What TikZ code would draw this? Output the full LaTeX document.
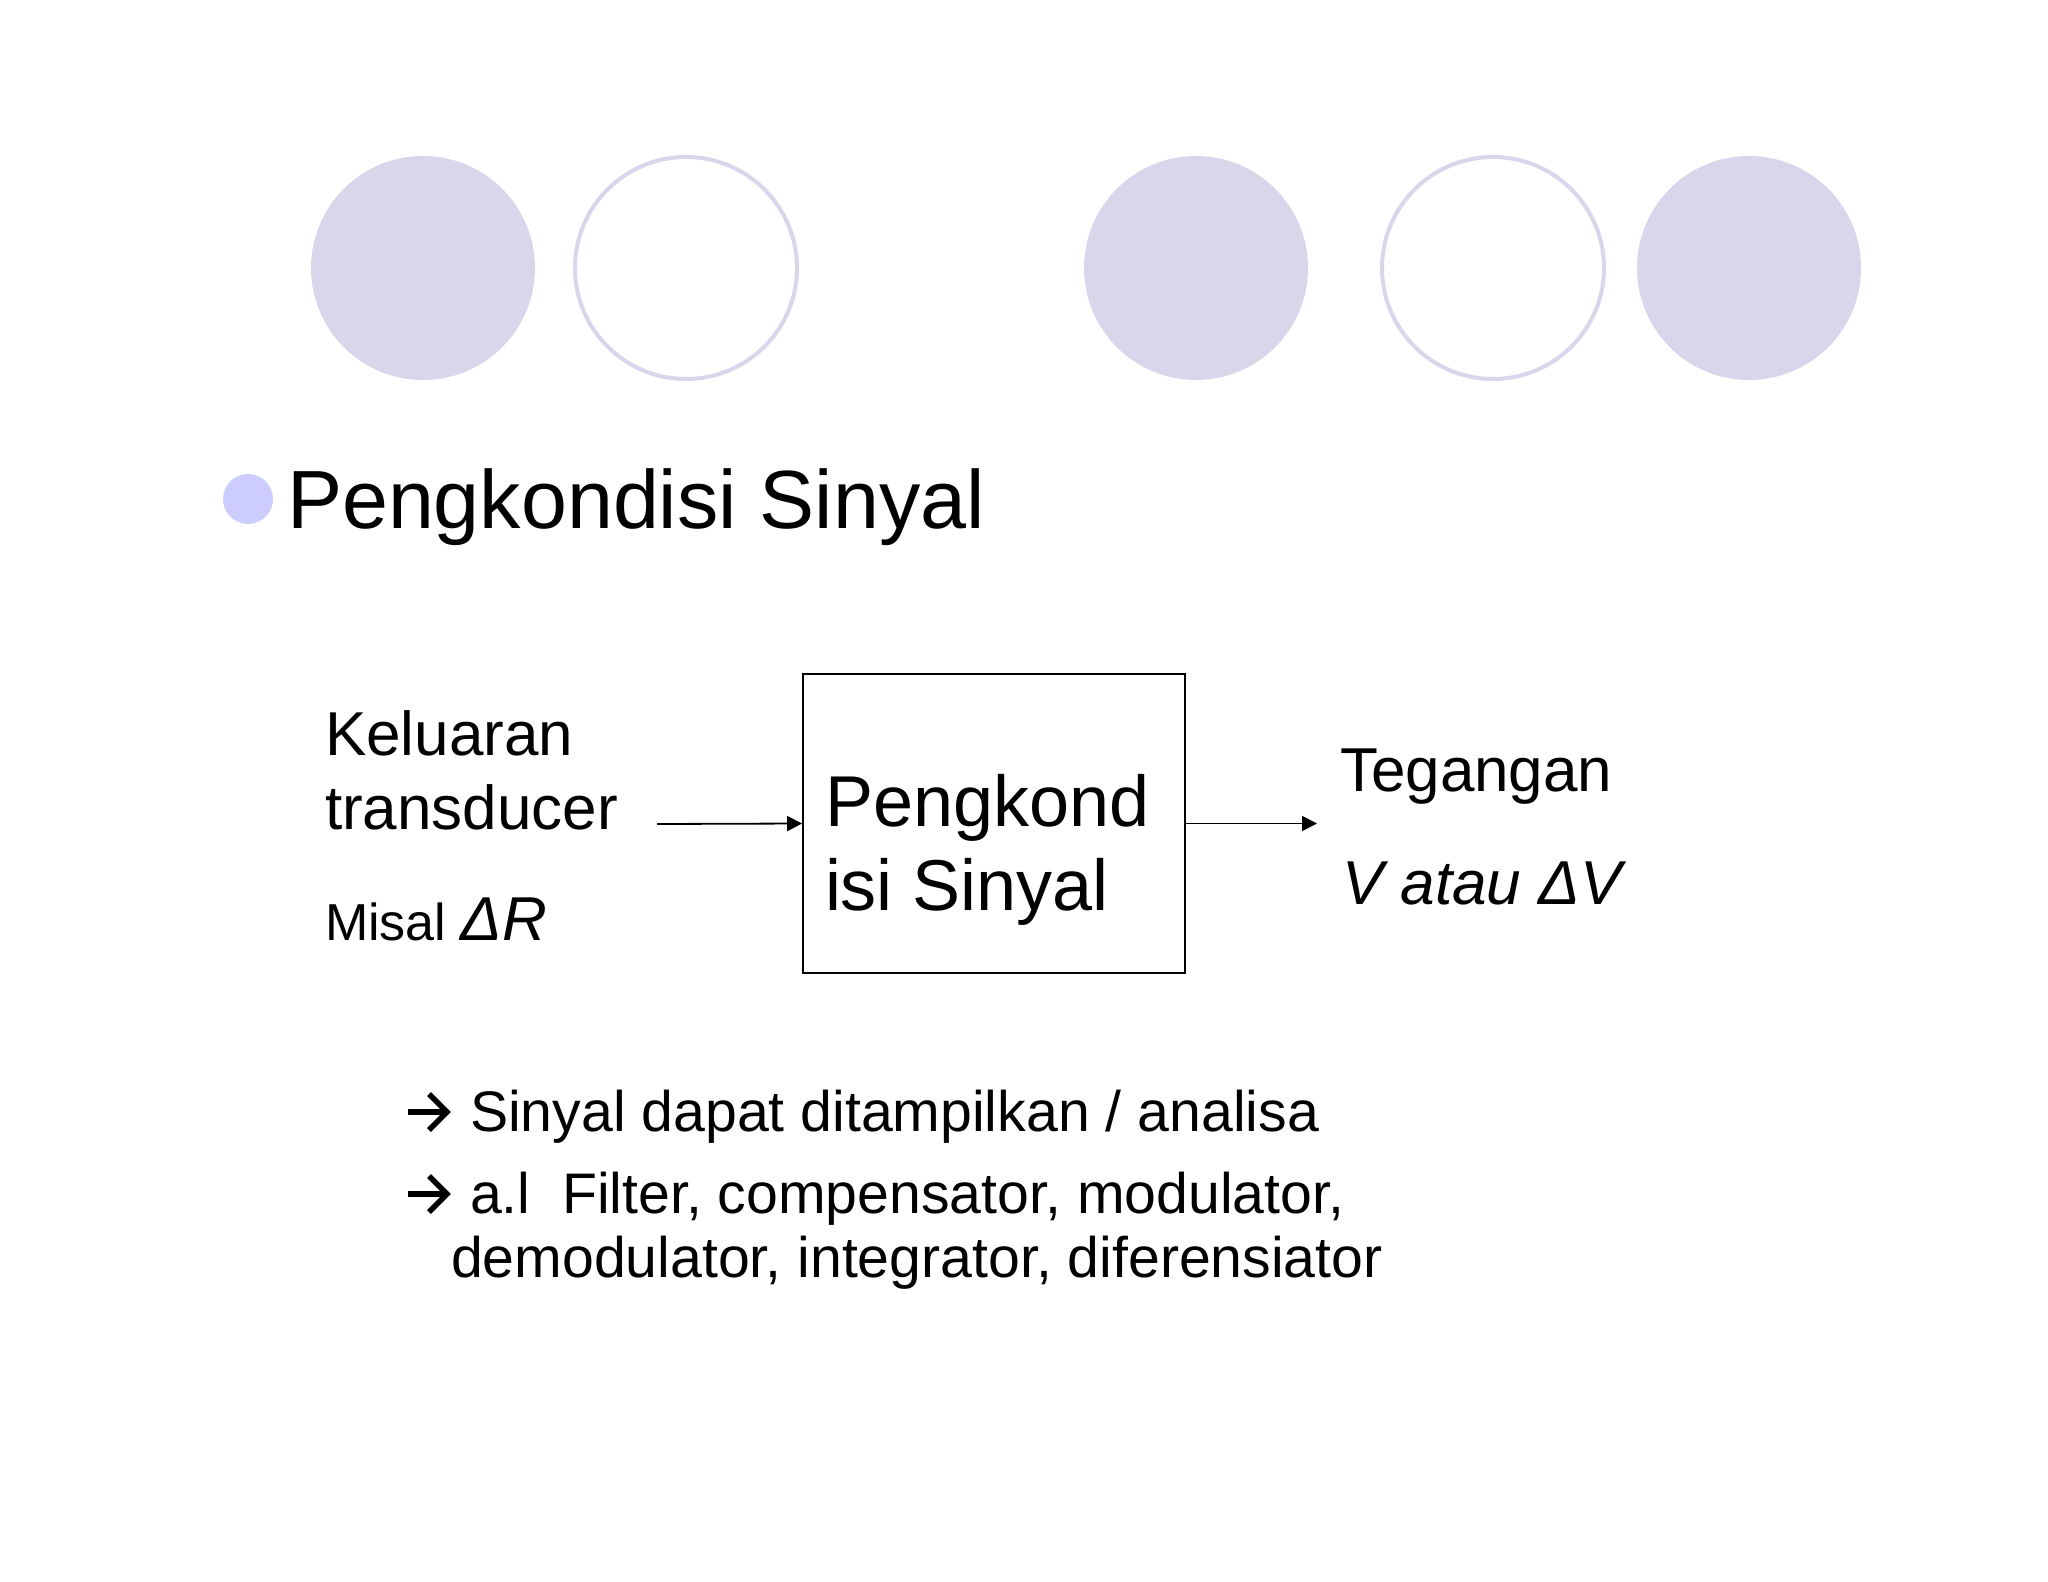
\documentclass[tikz,border=0pt]{standalone}
\usepackage{fontspec}
\setmainfont{Liberation Sans}
\usetikzlibrary{arrows.meta}
\definecolor{circfill}{HTML}{D8D6EA}
\definecolor{bulletc}{HTML}{CCCCFF}
\tikzset{
  fullcirc/.style={circle, fill=circfill, inner sep=0pt, minimum size=112pt},
  ringcirc/.style={circle, draw=circfill, line width=2pt, fill=white, inner sep=0pt, minimum size=111pt},
  txt/.style={anchor=base west, inner sep=0pt, outer sep=0pt},
  blockbox/.style={draw=black, line width=0.9pt, inner sep=0pt, minimum width=191pt, minimum height=149.5pt},
  sigarrow/.style={draw=black, line width=0.9pt, -{Triangle[length=7.5pt,width=7.5pt]}},
  bularrow/.style={draw=black, line width=2.7pt, miter limit=10}
}
\begin{document}
\begin{tikzpicture}[x=0.5pt,y=-0.5pt]
\useasboundingbox[fill=white] (0,0) rectangle (2048,1582);
% decorative circles
\node[fullcirc] (c1) at (423,268) {};
\node[ringcirc] (c2) at (686,268) {};
\node[fullcirc] (c3) at (1196,268) {};
\node[ringcirc] (c4) at (1493,268) {};
\node[fullcirc] (c5) at (1749,268) {};
% title
\node[circle, fill=bulletc, inner sep=0pt, minimum size=25pt] (bul) at (248,499) {};
\node[txt, font=\fontsize{41.3}{49}\selectfont] (title) at (287,529) {Pengkondisi Sinyal};
% block
\node[blockbox] (box) at (994,823.5) {};
\node[txt, font=\fontsize{36}{43}\selectfont] (b1) at (825,826) {Pengkond};
\node[txt, font=\fontsize{36}{43}\selectfont] (b2) at (825,910) {isi Sinyal};
% left labels
\node[txt, font=\fontsize{31}{37}\selectfont] (l1) at (325,755) {Keluaran};
\node[txt, font=\fontsize{31}{37}\selectfont] (l2) at (325,829) {transducer};
\node[txt] (l3) at (325,940) {\fontsize{26}{31}\selectfont Misal \fontsize{31}{37}\selectfont\textit{ΔR}};
% right labels
\node[txt, font=\fontsize{31}{37}\selectfont] (r1) at (1340,791) {Tegangan};
\node[txt, font=\fontsize{31}{37}\selectfont\itshape] (r2) at (1342,904) {V atau ΔV};
% arrows
\coordinate (inS) at (657,824);
\coordinate (outE) at (1317,823.5);
\draw[sigarrow] (inS) -- (box.west);
\draw[sigarrow] (box.east) -- (outE);
% bottom bullet arrows
\draw[bularrow] (408,1112) -- (446,1112);
\draw[bularrow] (429,1094) -- (447,1112) -- (429,1130);
\draw[bularrow] (408,1194) -- (446,1194);
\draw[bularrow] (429,1176) -- (447,1194) -- (429,1212);
% bottom text
\node[txt, font=\fontsize{28.6}{34}\selectfont] (t1) at (470,1131) {Sinyal dapat ditampilkan / analisa};
\node[txt, font=\fontsize{28.6}{34}\selectfont] (t2) at (470,1213) {a.l\ \ Filter, compensator, modulator,};
\node[txt, font=\fontsize{28.6}{34}\selectfont] (t3) at (451,1277) {demodulator, integrator, diferensiator};
\end{tikzpicture}
\end{document}
